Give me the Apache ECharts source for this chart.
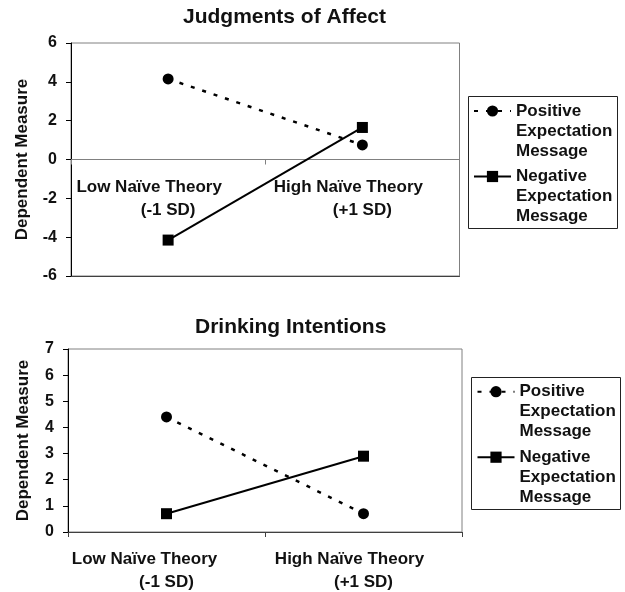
<!DOCTYPE html>
<html>
<head>
<meta charset="utf-8">
<script src="https://cdn.jsdelivr.net/npm/echarts@6/dist/echarts.min.js"></script>
<style>
html, body { margin: 0; padding: 0; background: #fff; }
#chart { width: 625px; height: 592px; }
</style>
</head>
<body>
<div id="chart"></div>
<script>
// ---- data ----
var categories = ["Low Naïve Theory\n(-1 SD)", "High Naïve Theory\n(+1 SD)"];
var seriesNames = ["Positive\nExpectation\nMessage", "Negative\nExpectation\nMessage"];
var chartTitles = ["Judgments of Affect", "Drinking Intentions"];
var yAxisName = "Dependent Measure";

var affectPositive = [4.15, 0.75];
var affectNegative = [-4.15, 1.65];
var drinkPositive = [4.4, 0.7];
var drinkNegative = [0.7, 2.9];

var affectTicks = { min: -6, max: 6, interval: 2 };
var drinkTicks = { min: 0, max: 7, interval: 1 };

// ---- styling ----
var FONT = "'Liberation Sans', Arial, sans-serif";
var TXT = "#111";

function catFormatter(value, index) {
  var parts = value.split("\n");
  return "{" + (index === 0 ? "a" : "c") + "|" + parts[0] + "}\n{b|" + parts[1] + "}";
}
function catRich(padA, padC) {
  var base = { fontSize: 17, fontWeight: "bold", fontFamily: FONT, color: TXT, lineHeight: 23 };
  return {
    a: Object.assign({}, base, { padding: [0, padA, 0, 0] }),
    c: Object.assign({}, base, { padding: [0, padC, 0, 0] }),
    b: Object.assign({}, base)
  };
}

function xAxisCfg(gridIndex, lineColor, padA, padC, offset) {
  return {
    type: "category",
    gridIndex: gridIndex,
    data: categories,
    position: "bottom",
    offset: offset,
    axisLine: { show: true, onZero: false, lineStyle: { color: lineColor, width: 1 } },
    axisTick: { show: true, inside: false, length: 5, lineStyle: { color: lineColor } },
    axisLabel: { margin: 16, formatter: catFormatter, rich: catRich(padA, padC) },
    splitLine: { show: false }
  };
}
function yAxisCfg(gridIndex, ticks, nameGap) {
  return {
    type: "value",
    gridIndex: gridIndex,
    min: ticks.min, max: ticks.max, interval: ticks.interval,
    name: yAxisName,
    nameLocation: "middle",
    nameGap: nameGap,
    nameTextStyle: { fontSize: 17, fontWeight: "bold", fontFamily: FONT, color: TXT },
    axisLine: { show: true, onZero: false, lineStyle: { color: "#000", width: 1 } },
    axisTick: { show: true, inside: false, length: 5, lineStyle: { color: "#000" } },
    axisLabel: { fontSize: 16, fontWeight: "bold", fontFamily: FONT, color: TXT, margin: 14 },
    splitLine: { show: false }
  };
}
function lineSeries(name, data, xi, yi, dashed) {
  return {
    type: "line",
    name: name,
    xAxisIndex: xi, yAxisIndex: yi,
    data: data,
    symbol: dashed ? "circle" : "rect",
    symbolSize: 11,
    showSymbol: true,
    lineStyle: { color: "#000", width: dashed ? 2.5 : 2, type: dashed ? [4, 8] : "solid" },
    itemStyle: { color: "#000" },
    emphasis: { disabled: true },
    animation: false
  };
}
function legendCfg(left, top) {
  return {
    orient: "vertical",
    left: left, top: top,
    padding: 0,
    itemWidth: 37, itemHeight: 14,
    itemGap: -34.5,
    data: seriesNames,
    formatter: function (name) { return "\n\n" + name; },
    textStyle: { fontSize: 17, fontWeight: "bold", fontFamily: FONT, color: TXT, lineHeight: 20 },
    selectedMode: false
  };
}

var chart = echarts.init(document.getElementById("chart"), null, { renderer: "canvas" });
chart.setOption({
  animation: false,
  backgroundColor: "#fff",
  title: [
    { text: chartTitles[0], left: 183, top: 7, padding: 0,
      textStyle: { fontSize: 21, fontWeight: "bold", fontFamily: FONT, color: TXT } },
    { text: chartTitles[1], left: 195, top: 317, padding: 0,
      textStyle: { fontSize: 21, fontWeight: "bold", fontFamily: FONT, color: TXT } }
  ],
  grid: [
    { left: 71, top: 43, width: 388.5, height: 233, show: true, borderColor: "#808080", borderWidth: 1, backgroundColor: "transparent" },
    { left: 68, top: 349, width: 394, height: 183, show: true, borderColor: "#808080", borderWidth: 1, backgroundColor: "transparent" }
  ],
  xAxis: [
    xAxisCfg(0, "#808080", 38, 28, -116.5),
    xAxisCfg(1, "#404040", 44, 28, 0),
    { type: "category", gridIndex: 0, data: categories, position: "bottom", offset: 0,
      axisLine: { show: true, onZero: false, lineStyle: { color: "#404040", width: 1 } },
      axisTick: { show: false }, axisLabel: { show: false }, splitLine: { show: false } }
  ],
  yAxis: [ yAxisCfg(0, affectTicks, 40), yAxisCfg(1, drinkTicks, 36) ],
  legend: [ legendCfg(473, 61), legendCfg(476.5, 341.7) ],
  graphic: [
    { type: "rect", shape: { x: 468.5, y: 96.5, width: 149, height: 132 }, style: { fill: "none", stroke: "#222", lineWidth: 1 }, silent: true },
    { type: "rect", shape: { x: 471.5, y: 377.5, width: 149, height: 132 }, style: { fill: "none", stroke: "#222", lineWidth: 1 }, silent: true }
  ],
  series: [
    lineSeries(seriesNames[0], affectPositive, 0, 0, true),
    lineSeries(seriesNames[1], affectNegative, 0, 0, false),
    lineSeries(seriesNames[0], drinkPositive, 1, 1, true),
    lineSeries(seriesNames[1], drinkNegative, 1, 1, false)
  ]
});
</script>
</body>
</html>
